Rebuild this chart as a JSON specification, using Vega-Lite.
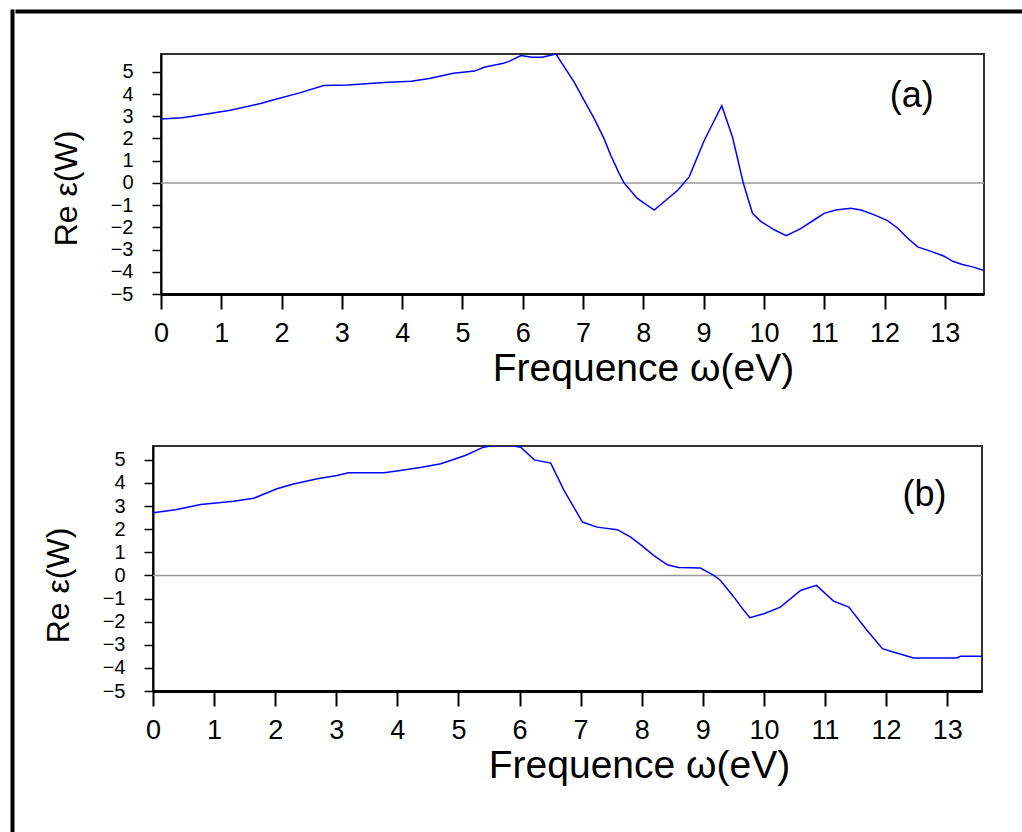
{
  "$schema": "https://vega.github.io/schema/vega-lite/v6.json",
  "padding": {"left": 10, "top": 9, "right": 0, "bottom": 0},
  "background": "white",
  "config": {
    "font": "Liberation Sans",
    "view": {"stroke": "#333333", "strokeWidth": 2},
    "concat": {"spacing": 0}
  },
  "datasets": {
    "a": [
      {"w": 0, "re": 2.87}, {"w": 0.35, "re": 2.93}, {"w": 0.6, "re": 3.03}, {"w": 1.15, "re": 3.27},
      {"w": 1.65, "re": 3.57}, {"w": 1.95, "re": 3.8}, {"w": 2.3, "re": 4.05}, {"w": 2.7, "re": 4.38},
      {"w": 3.1, "re": 4.41}, {"w": 3.7, "re": 4.52}, {"w": 4.15, "re": 4.57}, {"w": 4.45, "re": 4.7},
      {"w": 4.85, "re": 4.93}, {"w": 5.2, "re": 5.03}, {"w": 5.36, "re": 5.2}, {"w": 5.68, "re": 5.38},
      {"w": 5.78, "re": 5.48}, {"w": 5.97, "re": 5.73}, {"w": 6.15, "re": 5.65}, {"w": 6.32, "re": 5.65},
      {"w": 6.55, "re": 5.8}, {"w": 6.85, "re": 4.55}, {"w": 7.02, "re": 3.7}, {"w": 7.19, "re": 2.87},
      {"w": 7.35, "re": 1.98}, {"w": 7.46, "re": 1.24}, {"w": 7.6, "re": 0.42}, {"w": 7.68, "re": 0.0},
      {"w": 7.9, "re": -0.7}, {"w": 8.18, "re": -1.22}, {"w": 8.57, "re": -0.33}, {"w": 8.76, "re": 0.27},
      {"w": 9.01, "re": 1.91}, {"w": 9.3, "re": 3.47}, {"w": 9.48, "re": 2.05}, {"w": 9.66, "re": -0.03},
      {"w": 9.81, "re": -1.37}, {"w": 9.95, "re": -1.74}, {"w": 10.17, "re": -2.11}, {"w": 10.37, "re": -2.38},
      {"w": 10.61, "re": -2.06}, {"w": 10.83, "re": -1.67}, {"w": 11.0, "re": -1.37}, {"w": 11.19, "re": -1.22},
      {"w": 11.44, "re": -1.14}, {"w": 11.61, "re": -1.22}, {"w": 11.83, "re": -1.44}, {"w": 12.05, "re": -1.7},
      {"w": 12.22, "re": -2.04}, {"w": 12.38, "re": -2.48}, {"w": 12.55, "re": -2.88}, {"w": 12.77, "re": -3.08},
      {"w": 12.99, "re": -3.3}, {"w": 13.13, "re": -3.53}, {"w": 13.29, "re": -3.67}, {"w": 13.46, "re": -3.78},
      {"w": 13.65, "re": -3.94}
    ],
    "b": [
      {"w": 0, "re": 2.71}, {"w": 0.37, "re": 2.84}, {"w": 0.78, "re": 3.07}, {"w": 1.32, "re": 3.21},
      {"w": 1.65, "re": 3.34}, {"w": 2.03, "re": 3.75}, {"w": 2.3, "re": 3.96}, {"w": 2.69, "re": 4.18},
      {"w": 3.01, "re": 4.32}, {"w": 3.2, "re": 4.44}, {"w": 3.78, "re": 4.44}, {"w": 4.05, "re": 4.54},
      {"w": 4.4, "re": 4.68}, {"w": 4.71, "re": 4.83}, {"w": 4.87, "re": 4.97}, {"w": 5.11, "re": 5.19},
      {"w": 5.41, "re": 5.55}, {"w": 5.58, "re": 5.62}, {"w": 5.85, "re": 5.62}, {"w": 6.02, "re": 5.55},
      {"w": 6.24, "re": 5.0}, {"w": 6.51, "re": 4.86}, {"w": 6.73, "re": 3.67}, {"w": 7.03, "re": 2.31},
      {"w": 7.27, "re": 2.09}, {"w": 7.6, "re": 1.98}, {"w": 7.82, "re": 1.66}, {"w": 7.98, "re": 1.33},
      {"w": 8.2, "re": 0.86}, {"w": 8.42, "re": 0.46}, {"w": 8.6, "re": 0.34}, {"w": 8.96, "re": 0.32},
      {"w": 9.18, "re": 0.0}, {"w": 9.29, "re": -0.22}, {"w": 9.51, "re": -0.94}, {"w": 9.67, "re": -1.51},
      {"w": 9.77, "re": -1.83}, {"w": 10.0, "re": -1.66}, {"w": 10.27, "re": -1.37}, {"w": 10.6, "re": -0.65},
      {"w": 10.86, "re": -0.43}, {"w": 11.14, "re": -1.11}, {"w": 11.39, "re": -1.37}, {"w": 11.69, "re": -2.38},
      {"w": 11.94, "re": -3.17}, {"w": 12.13, "re": -3.32}, {"w": 12.45, "re": -3.57}, {"w": 13.16, "re": -3.57},
      {"w": 13.22, "re": -3.5}, {"w": 13.57, "re": -3.5}
    ],
    "labA": [{"label": "(a)"}],
    "labB": [{"label": "(b)"}],
    "zero": [{"v": 0}],
    "none": []
  },
  "spacing": 0,
  "hconcat": [
    {
      "width": 1, "height": 830,
      "data": {"name": "none"},
      "mark": "point",
      "view": {"stroke": "black", "strokeWidth": 3}
    },
    {
      "spacing": 39,
      "vconcat": [
        {
          "width": 1060, "height": 1,
          "data": {"name": "none"},
          "mark": "point",
          "view": {"stroke": "black", "strokeWidth": 3}
        },
        {
          "spacing": 56,
          "vconcat": [
            {
              "spacing": 30,
              "hconcat": [
                {"width": 1, "height": 1, "data": {"name": "none"}, "mark": "point", "view": {"stroke": null}},
                {
                  "width": 823, "height": 240,
                  "layer": [
                    {
                      "data": {"name": "zero"},
                      "mark": {"type": "rule", "color": "#999999", "strokeWidth": 1.5},
                      "encoding": {
                        "y": {
                          "field": "v", "type": "quantitative",
                          "scale": {"domain": [-5, 5.8], "nice": false, "zero": false},
                          "axis": {
                            "values": [-5,-4.5,-4,-3.5,-3,-2.5,-2,-1.5,-1,-0.5,0,0.5,1,1.5,2,2.5,3,3.5,4,4.5,5,5.5],
                            "tickCount": 200,
                            "format": "d",
                            "labelExpr": "datum.value % 1 === 0 ? datum.label : ''",
                            "tickSize": {"condition": {"test": "datum.value % 1 === 0", "value": 9}, "value": 6},
                            "tickColor": "black", "tickWidth": 1.5,
                            "domainColor": "black", "domainWidth": 2,
                            "labelFontSize": 20, "labelColor": "black", "labelPadding": 19,
                            "labelOverlap": false, "labelFlush": false,
                            "grid": false,
                            "title": "Re ε(W)", "titleFontSize": 32, "titleFontWeight": "normal",
                            "titleColor": "black", "titleX": -95, "titleY": 134, "titleBaseline": "middle"
                          }
                        }
                      }
                    },
                    {
                      "data": {"name": "a"},
                      "mark": {"type": "line", "color": "#0000ff", "strokeWidth": 1.5, "clip": true},
                      "encoding": {
                        "x": {
                          "field": "w", "type": "quantitative",
                          "scale": {"domain": [0, 13.65], "nice": false, "zero": false},
                          "axis": {
                            "values": [0,0.5,1,1.5,2,2.5,3,3.5,4,4.5,5,5.5,6,6.5,7,7.5,8,8.5,9,9.5,10,10.5,11,11.5,12,12.5,13,13.5],
                            "tickCount": 200,
                            "format": "d",
                            "labelExpr": "datum.value % 1 === 0 ? datum.label : ''",
                            "tickSize": {"condition": {"test": "datum.value % 1 === 0", "value": 15}, "value": 7},
                            "tickColor": "black", "tickWidth": 2,
                            "domainColor": "black", "domainWidth": 3,
                            "labelFontSize": 27, "labelColor": "black", "labelPadding": 11,
                            "labelOverlap": false, "labelFlush": false,
                            "grid": false,
                            "title": "Frequence ω(eV)", "titleFontSize": 39, "titleFontWeight": "normal",
                            "titleColor": "black", "titleX": 482, "titlePadding": 3
                          }
                        },
                        "y": {
                          "field": "re", "type": "quantitative",
                          "scale": {"domain": [-5, 5.8], "nice": false, "zero": false},
                          "axis": {
                            "values": [-5,-4.5,-4,-3.5,-3,-2.5,-2,-1.5,-1,-0.5,0,0.5,1,1.5,2,2.5,3,3.5,4,4.5,5,5.5],
                            "tickCount": 200,
                            "format": "d",
                            "labelExpr": "datum.value % 1 === 0 ? datum.label : ''",
                            "tickSize": {"condition": {"test": "datum.value % 1 === 0", "value": 9}, "value": 6},
                            "tickColor": "black", "tickWidth": 1.5,
                            "domainColor": "black", "domainWidth": 2,
                            "labelFontSize": 20, "labelColor": "black", "labelPadding": 19,
                            "labelOverlap": false, "labelFlush": false,
                            "grid": false,
                            "title": "Re ε(W)", "titleFontSize": 32, "titleFontWeight": "normal",
                            "titleColor": "black", "titleX": -95, "titleY": 134, "titleBaseline": "middle"
                          }
                        }
                      }
                    },
                    {
                      "data": {"name": "labA"},
                      "mark": {"type": "text", "fontSize": 36, "color": "black"},
                      "encoding": {
                        "x": {"datum": 12.45, "type": "quantitative"},
                        "y": {"datum": 3.92, "type": "quantitative"},
                        "text": {"field": "label"}
                      }
                    }
                  ]
                }
              ]
            },
            {
              "spacing": 22,
              "hconcat": [
                {"width": 1, "height": 1, "data": {"name": "none"}, "mark": "point", "view": {"stroke": null}},
                {
                  "width": 829, "height": 245,
                  "layer": [
                    {
                      "data": {"name": "zero"},
                      "mark": {"type": "rule", "color": "#999999", "strokeWidth": 1.5},
                      "encoding": {
                        "y": {
                          "field": "v", "type": "quantitative",
                          "scale": {"domain": [-5, 5.6], "nice": false, "zero": false},
                          "axis": {
                            "values": [-5,-4.5,-4,-3.5,-3,-2.5,-2,-1.5,-1,-0.5,0,0.5,1,1.5,2,2.5,3,3.5,4,4.5,5,5.5],
                            "tickCount": 200,
                            "format": "d",
                            "labelExpr": "datum.value % 1 === 0 ? datum.label : ''",
                            "tickSize": {"condition": {"test": "datum.value % 1 === 0", "value": 9}, "value": 6},
                            "tickColor": "black", "tickWidth": 1.5,
                            "domainColor": "black", "domainWidth": 2,
                            "labelFontSize": 20, "labelColor": "black", "labelPadding": 19,
                            "labelOverlap": false, "labelFlush": false,
                            "grid": false,
                            "title": "Re ε(W)", "titleFontSize": 32, "titleFontWeight": "normal",
                            "titleColor": "black", "titleX": -95, "titleY": 139, "titleBaseline": "middle"
                          }
                        }
                      }
                    },
                    {
                      "data": {"name": "b"},
                      "mark": {"type": "line", "color": "#0000ff", "strokeWidth": 1.5, "clip": true},
                      "encoding": {
                        "x": {
                          "field": "w", "type": "quantitative",
                          "scale": {"domain": [0, 13.57], "nice": false, "zero": false},
                          "axis": {
                            "values": [0,0.5,1,1.5,2,2.5,3,3.5,4,4.5,5,5.5,6,6.5,7,7.5,8,8.5,9,9.5,10,10.5,11,11.5,12,12.5,13,13.5],
                            "tickCount": 200,
                            "format": "d",
                            "labelExpr": "datum.value % 1 === 0 ? datum.label : ''",
                            "tickSize": {"condition": {"test": "datum.value % 1 === 0", "value": 15}, "value": 7},
                            "tickColor": "black", "tickWidth": 2,
                            "domainColor": "black", "domainWidth": 3,
                            "labelFontSize": 27, "labelColor": "black", "labelPadding": 11,
                            "labelOverlap": false, "labelFlush": false,
                            "grid": false,
                            "title": "Frequence ω(eV)", "titleFontSize": 39, "titleFontWeight": "normal",
                            "titleColor": "black", "titleX": 486, "titlePadding": 3
                          }
                        },
                        "y": {
                          "field": "re", "type": "quantitative",
                          "scale": {"domain": [-5, 5.6], "nice": false, "zero": false},
                          "axis": {
                            "values": [-5,-4.5,-4,-3.5,-3,-2.5,-2,-1.5,-1,-0.5,0,0.5,1,1.5,2,2.5,3,3.5,4,4.5,5,5.5],
                            "tickCount": 200,
                            "format": "d",
                            "labelExpr": "datum.value % 1 === 0 ? datum.label : ''",
                            "tickSize": {"condition": {"test": "datum.value % 1 === 0", "value": 9}, "value": 6},
                            "tickColor": "black", "tickWidth": 1.5,
                            "domainColor": "black", "domainWidth": 2,
                            "labelFontSize": 20, "labelColor": "black", "labelPadding": 19,
                            "labelOverlap": false, "labelFlush": false,
                            "grid": false,
                            "title": "Re ε(W)", "titleFontSize": 32, "titleFontWeight": "normal",
                            "titleColor": "black", "titleX": -95, "titleY": 139, "titleBaseline": "middle"
                          }
                        }
                      }
                    },
                    {
                      "data": {"name": "labB"},
                      "mark": {"type": "text", "fontSize": 36, "color": "black"},
                      "encoding": {
                        "x": {"datum": 12.63, "type": "quantitative"},
                        "y": {"datum": 3.5, "type": "quantitative"},
                        "text": {"field": "label"}
                      }
                    }
                  ]
                }
              ]
            }
          ]
        }
      ]
    }
  ]
}
